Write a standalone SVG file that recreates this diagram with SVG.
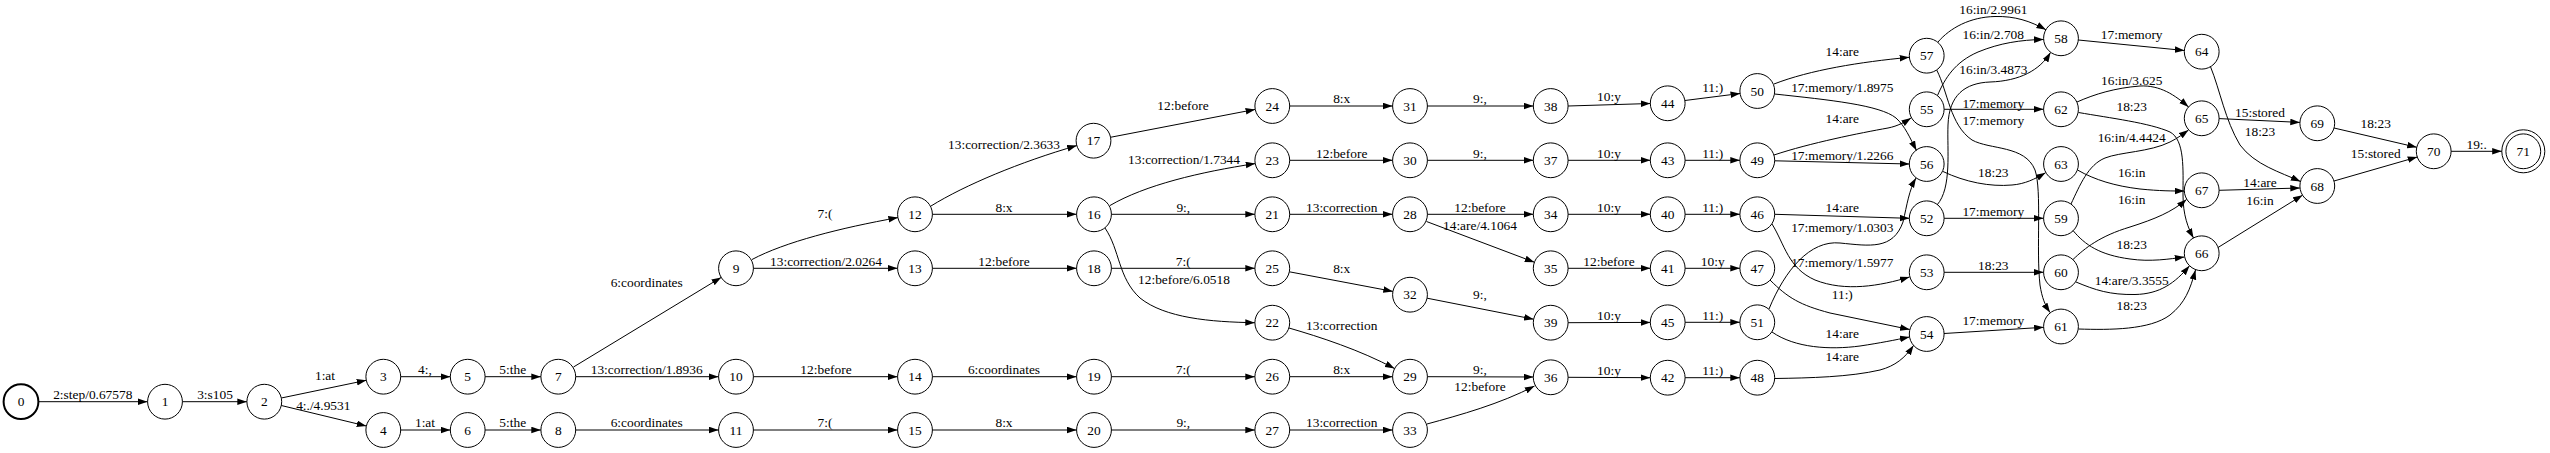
<svg xmlns="http://www.w3.org/2000/svg" width="2550" height="453" viewBox="0 0 2550 453">
<style>
.n circle{fill:none;stroke:#000;stroke-width:1}
.n text,.l{font-family:"Liberation Serif","Times New Roman",serif;font-size:13.4px;text-anchor:middle;fill:#000}
.e path{fill:none;stroke:#000;stroke-width:1;marker-end:url(#ah)}
</style>
<defs>
<marker id="ah" markerUnits="userSpaceOnUse" markerWidth="10" markerHeight="7" refX="9.6" refY="3.3" orient="auto" viewBox="0 0 10 7"><path d="M0,0 L9.6,3.3 L0,6.6 z" fill="#000"/></marker>
</defs>
<rect width="2550" height="453" fill="#fff"/>
<g id="edges" class="e">
<g><path d="M38.9,401.7 L147.5,401.7"/><text class="l" x="92.8" y="399">2:step/0.67578</text></g>
<g><path d="M182.4,401.7 L246.9,401.7"/><text class="l" x="215" y="399">3:s105</text></g>
<g><path d="M281.3,398 L366.3,380.3"/><text class="l" x="325" y="380">1:at</text></g>
<g><path d="M281.3,405.5 L366.3,426"/><text class="l" x="323.3" y="410">4:./4.9531</text></g>
<g><path d="M400.7,376.7 L450.3,376.7"/><text class="l" x="425" y="374">4:,</text></g>
<g><path d="M400.7,430 L450.3,430"/><text class="l" x="425" y="427">1:at</text></g>
<g><path d="M485.1,376.7 L540.9,376.7"/><text class="l" x="512.7" y="374">5:the</text></g>
<g><path d="M485.1,430 L540.9,430"/><text class="l" x="512.7" y="427">5:the</text></g>
<g><path d="M573.5,367 L721.2,277.4"/><text class="l" x="646.7" y="287">6:coordinates</text></g>
<g><path d="M575.7,376.7 L718.6,376.7"/><text class="l" x="646.7" y="374">13:correction/1.8936</text></g>
<g><path d="M575.7,430 L718.6,430"/><text class="l" x="646.7" y="427">6:coordinates</text></g>
<g><path d="M752,259.5 C785,242 840,228 898,217.6"/><text class="l" x="825" y="217.5">7:(</text></g>
<g><path d="M753.4,268.3 L897.6,268.3"/><text class="l" x="826" y="265.5">13:correction/2.0264</text></g>
<g><path d="M753.4,376.7 L897.6,376.7"/><text class="l" x="826" y="374">12:before</text></g>
<g><path d="M753.4,430 L897.6,430"/><text class="l" x="825" y="427">7:(</text></g>
<g><path d="M931,206 C965,185 1020,162 1076.8,145.6"/><text class="l" x="1004" y="149">13:correction/2.3633</text></g>
<g><path d="M932.4,214.3 L1076.6,214.3"/><text class="l" x="1004" y="211.5">8:x</text></g>
<g><path d="M932.4,268.3 L1076.6,268.3"/><text class="l" x="1004" y="265.5">12:before</text></g>
<g><path d="M932.4,376.7 L1076.6,376.7"/><text class="l" x="1004" y="374">6:coordinates</text></g>
<g><path d="M932.4,430 L1076.6,430"/><text class="l" x="1004" y="427">8:x</text></g>
<g><path d="M1110.4,137.3 L1255.2,109.4"/><text class="l" x="1183" y="110">12:before</text></g>
<g><path d="M1110,205.5 C1145,185 1200,172 1255.3,163.6"/><text class="l" x="1184" y="164">13:correction/1.7344</text></g>
<g><path d="M1111.4,214.3 L1254.9,214.3"/><text class="l" x="1183.3" y="211.5">9:,</text></g>
<g><path d="M1105,228 C1120,250 1118,278 1140,298 C1165,318 1210,322 1254.9,322.7"/><text class="l" x="1184" y="284">12:before/6.0518</text></g>
<g><path d="M1111.4,268.3 L1254.9,268.3"/><text class="l" x="1183.3" y="265.5">7:(</text></g>
<g><path d="M1111.4,376.7 L1254.9,376.7"/><text class="l" x="1183.3" y="374">7:(</text></g>
<g><path d="M1111.4,430 L1254.9,430"/><text class="l" x="1183.3" y="427">9:,</text></g>
<g><path d="M1289.7,106 L1392.6,106"/><text class="l" x="1341.7" y="103">8:x</text></g>
<g><path d="M1427.4,106 L1533.3,106"/><text class="l" x="1480" y="103">9:,</text></g>
<g><path d="M1289.7,160.3 L1392.6,160.3"/><text class="l" x="1341.7" y="157.5">12:before</text></g>
<g><path d="M1427.4,160.3 L1533.3,160.3"/><text class="l" x="1480" y="157.5">9:,</text></g>
<g><path d="M1289.7,214.3 L1392.6,214.3"/><text class="l" x="1341.7" y="211.5">13:correction</text></g>
<g><path d="M1427.4,214.3 L1533.3,214.3"/><text class="l" x="1480" y="211.5">12:before</text></g>
<g><path d="M1426.5,221.5 L1534.4,262.2"/><text class="l" x="1480" y="230">14:are/4.1064</text></g>
<g><path d="M1289.4,271.8 L1392.9,291.4"/><text class="l" x="1341.7" y="272.5">8:x</text></g>
<g><path d="M1427.1,298.2 L1533.6,319.2"/><text class="l" x="1480" y="299">9:,</text></g>
<g><path d="M1289,328 C1320,337 1360,350 1394.5,368.5"/><text class="l" x="1341.7" y="330">13:correction</text></g>
<g><path d="M1289.7,376.7 L1392.6,376.7"/><text class="l" x="1341.7" y="374">8:x</text></g>
<g><path d="M1427.4,376.7 L1533.3,377"/><text class="l" x="1480" y="374">9:,</text></g>
<g><path d="M1289.7,430 L1392.6,430"/><text class="l" x="1341.7" y="427">13:correction</text></g>
<g><path d="M1427,424 C1460,415 1500,404 1534.5,386"/><text class="l" x="1480" y="391">12:before</text></g>
<g><path d="M1568.1,106 L1650.3,103.5"/><text class="l" x="1609" y="100.5">10:y</text></g>
<g><path d="M1568.1,160.3 L1650.3,160.3"/><text class="l" x="1609" y="157.5">10:y</text></g>
<g><path d="M1568.1,214.3 L1650.3,214.3"/><text class="l" x="1609" y="211.5">10:y</text></g>
<g><path d="M1568.1,268.3 L1650.3,268.3"/><text class="l" x="1609" y="265.5">12:before</text></g>
<g><path d="M1568.1,322.7 L1650.3,322.4"/><text class="l" x="1609" y="319.5">10:y</text></g>
<g><path d="M1568.1,377.3 L1650.3,377.7"/><text class="l" x="1609" y="374.5">10:y</text></g>
<g><path d="M1684.9,100.5 L1740.1,93.5"/><text class="l" x="1712.7" y="92">11:)</text></g>
<g><path d="M1685.1,160.3 L1739.9,160.3"/><text class="l" x="1712.7" y="157.5">11:)</text></g>
<g><path d="M1685.1,214.3 L1739.9,214.3"/><text class="l" x="1712.7" y="211.5">11:)</text></g>
<g><path d="M1685.1,268.3 L1739.9,268.3"/><text class="l" x="1712.7" y="265.5">10:y</text></g>
<g><path d="M1685.1,322.3 L1739.9,322.3"/><text class="l" x="1712.7" y="319.5">11:)</text></g>
<g><path d="M1685.1,377.7 L1739.9,377.7"/><text class="l" x="1712.7" y="374.5">11:)</text></g>
<g><path d="M1774,84 C1810,70 1860,62 1909.3,57.3"/><text class="l" x="1842.3" y="55.5">14:are</text></g>
<g><path d="M1774.5,94 C1830,100 1880,105 1896,118 C1905,126 1910,138 1916.5,150.5"/><text class="l" x="1842.3" y="91.5">17:memory/1.8975</text></g>
<g><path d="M1774,155 C1810,143 1860,133 1888,128 C1898,126 1905,122 1911,118"/><text class="l" x="1842.3" y="123">14:are</text></g>
<g><path d="M1774.7,160.8 L1909.3,164"/><text class="l" x="1842.3" y="159.5">17:memory/1.2266</text></g>
<g><path d="M1774.7,214.3 L1909.3,218.3"/><text class="l" x="1842.3" y="211.5">14:are</text></g>
<g><path d="M1769,309 C1785,270 1810,240 1840,243 C1870,246 1893,250 1903,222 C1907,205 1909,190 1916,178"/><text class="l" x="1842.3" y="231.5">17:memory/1.0303</text></g>
<g><path d="M1772,224 C1785,245 1788,268 1815,280 C1845,292 1880,286 1909.5,277"/><text class="l" x="1842.3" y="266.5">17:memory/1.5977</text></g>
<g><path d="M1770,280 C1788,298 1800,305 1830,313 L1909.7,329.5"/><text class="l" x="1842.3" y="299">11:)</text></g>
<g><path d="M1772,332 C1795,348 1830,350 1860,346 C1880,343 1895,340 1909.5,337"/><text class="l" x="1842.3" y="338">14:are</text></g>
<g><path d="M1774.7,378.5 C1810,378 1850,377 1880,370 C1895,366 1905,358 1913.5,345.5"/><text class="l" x="1842.3" y="360.5">14:are</text></g>
<g><path d="M1938,42 C1950,28 1970,17 1995,16.5 C2015,16 2030,21 2046,29.8"/><text class="l" x="1993.3" y="13.5">16:in/2.9961</text></g>
<g><path d="M1937.5,95.5 C1945,78 1955,62 1978,52 C2000,43 2020,40 2043.6,39.4"/><text class="l" x="1993.3" y="39">16:in/2.708</text></g>
<g><path d="M1937,205 C1952,188 1947,150 1948,125 C1949,95 1965,83 1990,82 C2020,81 2040,70 2050.5,52.5"/><text class="l" x="1993.3" y="74">16:in/3.4873</text></g>
<g><path d="M1944.1,109.3 L2043.6,109.3"/><text class="l" x="1993.3" y="108">17:memory</text></g>
<g><path d="M1936.7,70 C1948,92 1950,125 1972,140 C1990,150 2025,145 2035,170 C2042,190 2036,250 2040,285 C2042,298 2045,305 2050,312.5"/><text class="l" x="1993.3" y="124.5">17:memory</text></g>
<g><path d="M1943,171.5 C1965,182 1990,187 2012,185 C2025,184 2035,179 2045.5,172.8"/><text class="l" x="1993.3" y="177">18:23</text></g>
<g><path d="M1944.1,218.3 L2043.6,218.3"/><text class="l" x="1993.3" y="215.5">17:memory</text></g>
<g><path d="M1944.1,272.3 L2043.6,272.3"/><text class="l" x="1993.3" y="269.5">18:23</text></g>
<g><path d="M1944,333.5 L2043.7,327.3"/><text class="l" x="1993.3" y="324.5">17:memory</text></g>
<g><path d="M2078.3,40 L2184.4,50.5"/><text class="l" x="2131.7" y="39">17:memory</text></g>
<g><path d="M2077,102 C2095,94 2115,88 2140,86 C2160,85 2175,95 2188.5,107"/><text class="l" x="2131.7" y="85">16:in/3.625</text></g>
<g><path d="M2078.5,112.5 C2110,118 2150,123 2170,132 C2185,140 2183,170 2183,195 C2183,215 2188,228 2193.5,238"/><text class="l" x="2131.7" y="111">18:23</text></g>
<g><path d="M2071,204 C2080,185 2088,165 2105,158 C2120,152 2150,152 2170,142 C2178,138 2183,134 2188.5,130"/><text class="l" x="2131.7" y="141.5">16:in/4.4424</text></g>
<g><path d="M2077.5,170 C2095,180 2115,186 2140,189 C2160,191 2172,191 2184.3,191"/><text class="l" x="2131.7" y="177">16:in</text></g>
<g><path d="M2073,259.5 C2085,248 2100,236 2130,227 C2155,219 2172,212 2186.5,199.5"/><text class="l" x="2131.7" y="204">16:in</text></g>
<g><path d="M2073,230.5 C2085,245 2100,255 2130,259 C2150,262 2170,259 2184.4,257"/><text class="l" x="2131.7" y="249">18:23</text></g>
<g><path d="M2076,282 C2095,290 2110,295 2135,294.5 C2160,294 2175,283 2189.5,265.8"/><text class="l" x="2131.7" y="285">14:are/3.3555</text></g>
<g><path d="M2078.5,329 C2110,330 2150,330 2170,315 C2185,303 2190,290 2195.5,270"/><text class="l" x="2131.7" y="310">18:23</text></g>
<g><path d="M2210.5,66.7 C2220,90 2225,120 2240,145 C2255,165 2280,172 2300.5,181.5"/><text class="l" x="2260" y="136">18:23</text></g>
<g><path d="M2219.1,118.6 L2299.9,122.4"/><text class="l" x="2260" y="116.5">15:stored</text></g>
<g><path d="M2219.1,190.3 L2299.9,188"/><text class="l" x="2260" y="186.5">14:are</text></g>
<g><path d="M2218,247.5 L2302.5,195.2"/><text class="l" x="2260" y="204.5">16:in</text></g>
<g><path d="M2334,128 L2416.8,147.3"/><text class="l" x="2375.7" y="128">18:23</text></g>
<g><path d="M2334,181 L2417.3,157"/><text class="l" x="2375.7" y="158">15:stored</text></g>
<g><path d="M2451.1,151.3 L2501.8,151.3"/><text class="l" x="2476.7" y="149">19:.</text></g>
</g>
<g id="node0" class="n"><circle cx="21" cy="401.7" r="17.4" style="stroke-width:2"/><text x="21" y="406.2">0</text></g>
<g id="node1" class="n"><circle cx="165" cy="401.7" r="17.4"/><text x="165" y="406.2">1</text></g>
<g id="node2" class="n"><circle cx="264.3" cy="401.7" r="17.4"/><text x="264.3" y="406.2">2</text></g>
<g id="node3" class="n"><circle cx="383.3" cy="376.7" r="17.4"/><text x="383.3" y="381.2">3</text></g>
<g id="node4" class="n"><circle cx="383.3" cy="430" r="17.4"/><text x="383.3" y="434.5">4</text></g>
<g id="node5" class="n"><circle cx="467.7" cy="376.7" r="17.4"/><text x="467.7" y="381.2">5</text></g>
<g id="node6" class="n"><circle cx="467.7" cy="430" r="17.4"/><text x="467.7" y="434.5">6</text></g>
<g id="node7" class="n"><circle cx="558.3" cy="376.7" r="17.4"/><text x="558.3" y="381.2">7</text></g>
<g id="node8" class="n"><circle cx="558.3" cy="430" r="17.4"/><text x="558.3" y="434.5">8</text></g>
<g id="node9" class="n"><circle cx="736" cy="268.3" r="17.4"/><text x="736" y="272.8">9</text></g>
<g id="node10" class="n"><circle cx="736" cy="376.7" r="17.4"/><text x="736" y="381.2">10</text></g>
<g id="node11" class="n"><circle cx="736" cy="430" r="17.4"/><text x="736" y="434.5">11</text></g>
<g id="node12" class="n"><circle cx="915" cy="214.3" r="17.4"/><text x="915" y="218.8">12</text></g>
<g id="node13" class="n"><circle cx="915" cy="268.3" r="17.4"/><text x="915" y="272.8">13</text></g>
<g id="node14" class="n"><circle cx="915" cy="376.7" r="17.4"/><text x="915" y="381.2">14</text></g>
<g id="node15" class="n"><circle cx="915" cy="430" r="17.4"/><text x="915" y="434.5">15</text></g>
<g id="node16" class="n"><circle cx="1094" cy="214.3" r="17.4"/><text x="1094" y="218.8">16</text></g>
<g id="node17" class="n"><circle cx="1093.5" cy="140.7" r="17.4"/><text x="1093.5" y="145.2">17</text></g>
<g id="node18" class="n"><circle cx="1094" cy="268.3" r="17.4"/><text x="1094" y="272.8">18</text></g>
<g id="node19" class="n"><circle cx="1094" cy="376.7" r="17.4"/><text x="1094" y="381.2">19</text></g>
<g id="node20" class="n"><circle cx="1094" cy="430" r="17.4"/><text x="1094" y="434.5">20</text></g>
<g id="node21" class="n"><circle cx="1272.3" cy="214.3" r="17.4"/><text x="1272.3" y="218.8">21</text></g>
<g id="node22" class="n"><circle cx="1272.3" cy="322.7" r="17.4"/><text x="1272.3" y="327.2">22</text></g>
<g id="node23" class="n"><circle cx="1272.3" cy="160.3" r="17.4"/><text x="1272.3" y="164.8">23</text></g>
<g id="node24" class="n"><circle cx="1272.3" cy="106" r="17.4"/><text x="1272.3" y="110.5">24</text></g>
<g id="node25" class="n"><circle cx="1272.3" cy="268.3" r="17.4"/><text x="1272.3" y="272.8">25</text></g>
<g id="node26" class="n"><circle cx="1272.3" cy="376.7" r="17.4"/><text x="1272.3" y="381.2">26</text></g>
<g id="node27" class="n"><circle cx="1272.3" cy="430" r="17.4"/><text x="1272.3" y="434.5">27</text></g>
<g id="node28" class="n"><circle cx="1410" cy="214.3" r="17.4"/><text x="1410" y="218.8">28</text></g>
<g id="node29" class="n"><circle cx="1410" cy="376.7" r="17.4"/><text x="1410" y="381.2">29</text></g>
<g id="node30" class="n"><circle cx="1410" cy="160.3" r="17.4"/><text x="1410" y="164.8">30</text></g>
<g id="node31" class="n"><circle cx="1410" cy="106" r="17.4"/><text x="1410" y="110.5">31</text></g>
<g id="node32" class="n"><circle cx="1410" cy="294.7" r="17.4"/><text x="1410" y="299.2">32</text></g>
<g id="node33" class="n"><circle cx="1410" cy="430" r="17.4"/><text x="1410" y="434.5">33</text></g>
<g id="node34" class="n"><circle cx="1550.7" cy="214.3" r="17.4"/><text x="1550.7" y="218.8">34</text></g>
<g id="node35" class="n"><circle cx="1550.7" cy="268.3" r="17.4"/><text x="1550.7" y="272.8">35</text></g>
<g id="node36" class="n"><circle cx="1550.7" cy="377.3" r="17.4"/><text x="1550.7" y="381.8">36</text></g>
<g id="node37" class="n"><circle cx="1550.7" cy="160.3" r="17.4"/><text x="1550.7" y="164.8">37</text></g>
<g id="node38" class="n"><circle cx="1550.7" cy="106" r="17.4"/><text x="1550.7" y="110.5">38</text></g>
<g id="node39" class="n"><circle cx="1550.7" cy="322.7" r="17.4"/><text x="1550.7" y="327.2">39</text></g>
<g id="node40" class="n"><circle cx="1667.7" cy="214.3" r="17.4"/><text x="1667.7" y="218.8">40</text></g>
<g id="node41" class="n"><circle cx="1667.7" cy="268.3" r="17.4"/><text x="1667.7" y="272.8">41</text></g>
<g id="node42" class="n"><circle cx="1667.7" cy="377.7" r="17.4"/><text x="1667.7" y="382.2">42</text></g>
<g id="node43" class="n"><circle cx="1667.7" cy="160.3" r="17.4"/><text x="1667.7" y="164.8">43</text></g>
<g id="node44" class="n"><circle cx="1667.7" cy="103.3" r="17.4"/><text x="1667.7" y="107.8">44</text></g>
<g id="node45" class="n"><circle cx="1667.7" cy="322.3" r="17.4"/><text x="1667.7" y="326.8">45</text></g>
<g id="node46" class="n"><circle cx="1757.3" cy="214.3" r="17.4"/><text x="1757.3" y="218.8">46</text></g>
<g id="node47" class="n"><circle cx="1757.3" cy="268.3" r="17.4"/><text x="1757.3" y="272.8">47</text></g>
<g id="node48" class="n"><circle cx="1757.3" cy="377.7" r="17.4"/><text x="1757.3" y="382.2">48</text></g>
<g id="node49" class="n"><circle cx="1757.3" cy="160.3" r="17.4"/><text x="1757.3" y="164.8">49</text></g>
<g id="node50" class="n"><circle cx="1757.3" cy="91" r="17.4"/><text x="1757.3" y="95.5">50</text></g>
<g id="node51" class="n"><circle cx="1757.3" cy="322.3" r="17.4"/><text x="1757.3" y="326.8">51</text></g>
<g id="node52" class="n"><circle cx="1926.7" cy="218.3" r="17.4"/><text x="1926.7" y="222.8">52</text></g>
<g id="node53" class="n"><circle cx="1926.7" cy="272.3" r="17.4"/><text x="1926.7" y="276.8">53</text></g>
<g id="node54" class="n"><circle cx="1926.7" cy="334" r="17.4"/><text x="1926.7" y="338.5">54</text></g>
<g id="node55" class="n"><circle cx="1926.7" cy="109.3" r="17.4"/><text x="1926.7" y="113.8">55</text></g>
<g id="node56" class="n"><circle cx="1926.7" cy="164" r="17.4"/><text x="1926.7" y="168.5">56</text></g>
<g id="node57" class="n"><circle cx="1926.7" cy="55.7" r="17.4"/><text x="1926.7" y="60.2">57</text></g>
<g id="node58" class="n"><circle cx="2061" cy="38.3" r="17.4"/><text x="2061" y="42.8">58</text></g>
<g id="node59" class="n"><circle cx="2061" cy="218.3" r="17.4"/><text x="2061" y="222.8">59</text></g>
<g id="node60" class="n"><circle cx="2061" cy="272.3" r="17.4"/><text x="2061" y="276.8">60</text></g>
<g id="node61" class="n"><circle cx="2061" cy="326.5" r="17.4"/><text x="2061" y="331">61</text></g>
<g id="node62" class="n"><circle cx="2061" cy="109.3" r="17.4"/><text x="2061" y="113.8">62</text></g>
<g id="node63" class="n"><circle cx="2061" cy="164" r="17.4"/><text x="2061" y="168.5">63</text></g>
<g id="node64" class="n"><circle cx="2201.7" cy="51.7" r="17.4"/><text x="2201.7" y="56.2">64</text></g>
<g id="node65" class="n"><circle cx="2201.7" cy="118.3" r="17.4"/><text x="2201.7" y="122.8">65</text></g>
<g id="node66" class="n"><circle cx="2201.7" cy="253.3" r="17.4"/><text x="2201.7" y="257.8">66</text></g>
<g id="node67" class="n"><circle cx="2201.7" cy="190.3" r="17.4"/><text x="2201.7" y="194.8">67</text></g>
<g id="node68" class="n"><circle cx="2317.3" cy="186" r="17.4"/><text x="2317.3" y="190.5">68</text></g>
<g id="node69" class="n"><circle cx="2317.3" cy="123.3" r="17.4"/><text x="2317.3" y="127.8">69</text></g>
<g id="node70" class="n"><circle cx="2433.7" cy="151.3" r="17.4"/><text x="2433.7" y="155.8">70</text></g>
<g id="node71" class="n"><circle cx="2523.3" cy="151.3" r="17.4"/><circle cx="2523.3" cy="151.3" r="21.5"/><text x="2523.3" y="155.8">71</text></g>
</svg>
